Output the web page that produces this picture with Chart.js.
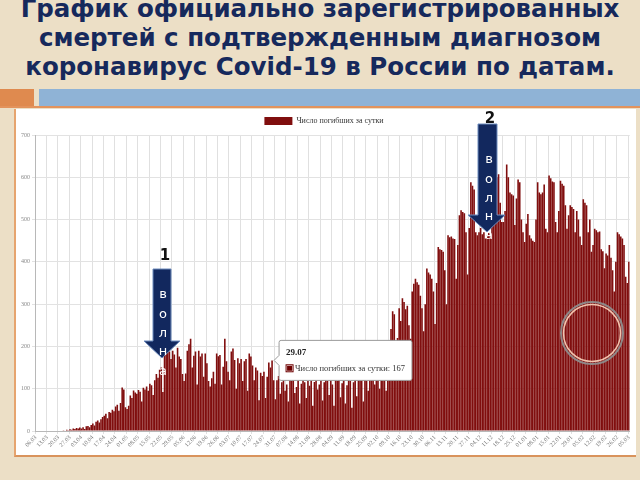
<!DOCTYPE html>
<html>
<head>
<meta charset="utf-8">
<script src="https://cdn.jsdelivr.net/npm/chart.js@4.4.0/dist/chart.umd.min.js"></script>
<style>
  body { margin: 0; width: 640px; height: 480px; background: #ecdfc6; position: relative; overflow: hidden; font-family: "DejaVu Sans", sans-serif; }
  .t { position: absolute; left: 0; width: 640px; text-align: center; font-weight: bold; font-size: 24.5px; line-height: 25px; color: #16295c; white-space: nowrap; }
  #panel { position: absolute; left: 14px; top: 109px; width: 620px; height: 346px; background: #fff; border-left: 2px solid #e6a46e; border-bottom: 2px solid #d9935c; }
  #box { position: absolute; left: 16px; top: 110px; width: 618px; height: 344px; }
  svg { position: absolute; left: 0; top: 0; pointer-events: none; }
</style>
</head>
<body>
<div class="t" style="top:-4px">График официально зарегистрированных</div>
<div class="t" style="top:25px">смертей с подтвержденным диагнозом</div>
<div class="t" style="top:54px">коронавирус Covid-19 в России по датам.</div>
<div style="position:absolute;left:0;top:89px;width:34px;height:17px;background:#df8a4f"></div>
<div style="position:absolute;left:39px;top:89px;width:601px;height:17px;background:#8fb3d6"></div>
<div style="position:absolute;left:0;top:106px;width:640px;height:2px;background:#e3935c"></div>
<div id="panel"></div>
<div id="box"><canvas id="deaths"></canvas></div>
<svg width="640" height="480">
  <g fill="#12285e" stroke="#6d8bbd" stroke-width="1">
    <polygon points="153,269 171,269 171,341 180,341 162,358 144,341 153,341"/>
    <polygon points="478,124 497,124 497,215 505,215 487,232 468,215 478,215"/>
  </g>
  <g fill="#fff" font-family="DejaVu Sans" font-size="13" text-anchor="middle">
    <text x="163" y="298">в</text><text x="163" y="318">о</text><text x="163" y="337">л</text><text x="163" y="355">н</text><text x="163" y="375">а</text>
    <text x="489" y="163">в</text><text x="489" y="183">о</text><text x="489" y="202">л</text><text x="489" y="220">н</text><text x="489" y="239">а</text>
  </g>
  <g fill="#111" font-family="DejaVu Sans" font-weight="bold" font-size="15" text-anchor="middle">
    <text x="165" y="260">1</text>
    <text x="490" y="123">2</text>
  </g>
  <circle cx="592" cy="333" r="31" fill="none" stroke="#8e8787" stroke-width="2"/>
  <circle cx="592" cy="333" r="28.5" fill="none" stroke="#f3c4ae" stroke-width="1.5"/>
</svg>
<script>
// начало ряда и подписи оси X (каждые 7 дней)
const startDate = new Date(2020, 2, 6);
const weekTicks = ["06.03","13.03","20.03","27.03","03.04","10.04","17.04","24.04","01.05","08.05","15.05","22.05","29.05","05.06","12.06","19.06","26.06","03.07","10.07","17.07","24.07","31.07","07.08","14.08","21.08","28.08","04.09","11.09","18.09","25.09","02.10","09.10","16.10","23.10","30.10","06.11","13.11","20.11","27.11","04.12","11.12","18.12","25.12","01.01","08.01","15.01","22.01","29.01","05.02","12.02","19.02","26.02","05.03"];
const yTicks = [0, 100, 200, 300, 400, 500, 600, 700];
const seriesLabel = "Число погибших за сутки";
const tooltipDay = 145; // 29.07

// число погибших за сутки, по неделям
const deaths = [
  0,0,0,0,0,0,0,
  0,0,0,0,1,0,1,
  1,0,1,2,1,3,2,
  4,3,6,5,7,6,8,
  6,9,5,11,12,9,14,
  18,13,22,25,20,28,33,
  36,41,30,45,43,50,47,
  58,62,48,66,103,98,56,
  52,60,84,78,96,91,88,
  97,93,70,102,98,105,95,
  112,108,85,120,135,126,145,
  150,92,196,182,197,188,170,
  190,181,150,197,176,170,135,
  118,136,190,205,218,150,178,
  188,110,190,176,183,128,183,
  160,118,105,125,140,112,183,
  177,180,110,152,218,165,140,
  120,188,195,168,100,172,160,
  170,118,165,170,95,183,176,
  155,120,150,143,73,138,130,
  140,78,128,162,150,167,120,
  75,120,130,88,115,125,95,
  110,70,128,118,122,90,104,
  125,65,112,120,115,78,118,
  107,120,60,116,124,98,110,
  120,72,115,130,118,85,122,
  110,60,125,118,128,80,113,
  120,65,108,122,118,55,115,
  125,82,120,130,120,70,128,
  118,95,122,130,125,110,120,
  135,100,128,120,130,95,135,
  150,241,283,276,150,220,290,
  260,314,305,288,296,250,218,
  330,348,360,352,346,320,290,
  236,300,384,375,370,360,330,
  253,350,435,430,428,424,380,
  300,463,458,460,455,454,360,
  440,510,522,518,515,470,370,
  480,588,580,571,470,463,470,
  480,465,470,455,462,470,460,
  500,560,592,600,607,540,494,
  494,520,630,600,564,560,557,
  487,550,595,588,500,470,447,
  490,513,463,455,450,447,500,
  588,564,560,564,583,478,470,
  604,598,590,588,494,470,520,
  592,585,580,534,478,510,534,
  530,525,470,520,500,460,440,
  548,540,534,470,500,424,440,
  478,475,470,472,430,425,385,
  420,415,440,410,380,330,400,
  470,465,460,455,440,365,350,
  400
];

// даты по дням
const days = deaths.map((v, i) => {
  const d = new Date(startDate.getFullYear(), startDate.getMonth(), startDate.getDate() + i);
  return String(d.getDate()).padStart(2, "0") + "." + String(d.getMonth() + 1).padStart(2, "0");
});

const serif = "'Liberation Serif', 'DejaVu Serif', serif";

const chart = new Chart(document.getElementById("deaths"), {
  type: "bar",
  data: {
    labels: days,
    datasets: [{
      label: seriesLabel,
      data: deaths,
      backgroundColor: "#800e0e",
      borderWidth: 0,
      barPercentage: 0.98,
      categoryPercentage: 1
    }]
  },
  options: {
    responsive: true,
    maintainAspectRatio: false,
    animation: false,
    events: [],
    layout: { padding: { top: 1, right: 2, left: 0, bottom: 0 } },
    plugins: {
      legend: {
        labels: {
          font: { family: serif, size: 8 },
          color: "#333",
          boxWidth: 28,
          boxHeight: 8,
          padding: 6
        }
      },
      tooltip: {
        backgroundColor: "#fff",
        borderColor: "#9a9a9a",
        borderWidth: 1,
        titleColor: "#222",
        bodyColor: "#333",
        titleFont: { family: serif, size: 9, weight: "bold" },
        bodyFont: { family: serif, size: 8.5 },
        titleMarginBottom: 5,
        xAlign: "left",
        yAlign: "center",
        caretSize: 5,
        cornerRadius: 2,
        padding: 7,
        boxWidth: 7,
        boxHeight: 7,
        callbacks: {
          title: (items) => days[items[0].dataIndex],
          label: (ctx) => ctx.dataset.label + ": " + ctx.parsed.y,
          labelColor: () => ({ borderColor: "#6e0000", backgroundColor: "#6e0000", borderWidth: 0 })
        }
      }
    },
    scales: {
      x: {
        afterFit: (s) => { s.height = 23; },
        grid: {
          color: (c) => (c.index % 7 === 0 ? "#e0e0e0" : "transparent"),
          tickLength: 3
        },
        border: { color: "#b8b8b8" },
        ticks: {
          autoSkip: false,
          maxRotation: 45,
          minRotation: 45,
          padding: 0,
          font: { family: serif, size: 6 },
          color: "#777",
          callback: (v, i) => (i % 7 === 0 ? weekTicks[i / 7] : "")
        }
      },
      y: {
        min: yTicks[0],
        max: yTicks[yTicks.length - 1],
        afterFit: (s) => { s.width = 19; },
        afterBuildTicks: (s) => { s.ticks = yTicks.map((v) => ({ value: v })); },
        grid: { color: "#e2e2e2", tickLength: 3 },
        border: { color: "#b8b8b8" },
        ticks: {
          font: { family: serif, size: 6 },
          color: "#888",
          padding: 2
        }
      }
    }
  }
});

chart.tooltip.setActiveElements([{ datasetIndex: 0, index: tooltipDay }], { x: 0, y: 0 });
chart.update();
</script>
</body>
</html>
